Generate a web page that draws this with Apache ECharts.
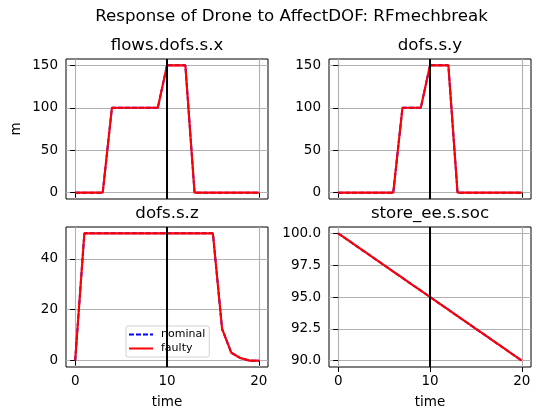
<!DOCTYPE html>
<html>
<head>
<meta charset="utf-8">
<style>html,body{margin:0;padding:0;background:#fff}#c{width:540px;height:419px}</style>
<script src="https://cdn.jsdelivr.net/npm/echarts@6/dist/echarts.min.js"></script>
</head>
<body>
<div id="c"></div>
<script>
const time = [0,1,2,3,4,5,6,7,8,9,10,11,12,13,14,15,16,17,18,19,20];
const dofsX = [0,0,0,0,100,100,100,100,100,100,150,150,150,0,0,0,0,0,0,0,0];
const dofsY = [0,0,0,0,0,0,0,100,100,100,150,150,150,0,0,0,0,0,0,0,0];
const dofsZ = [0,50,50,50,50,50,50,50,50,50,50,50,50,50,50,50,12.5,3.1,1,0,0];
const soc = [100,99.5,99,98.5,98,97.5,97,96.5,96,95.5,95,94.5,94,93.5,93,92.5,92,91.5,91,90.5,90];
const xTicks = [0,10,20];
const faultTime = 10;
const panelTitles = ['flows.dofs.s.x','dofs.s.y','dofs.s.z','store_ee.s.soc'];
const panelValues = [dofsX,dofsY,dofsZ,soc];
const yTicks = [[0,50,100,150],[0,50,100,150],[0,20,40],[90,92.5,95,97.5,100]];
const yRanges = [[-7.5,157.5],[-7.5,157.5],[-2.5,52.5],[89.5,100.5]];
const suptitle = 'Response of Drone to AffectDOF: RFmechbreak';

const FONT = '"DejaVu Sans"';
const boxes = [
  {left:66,top:59},{left:329,top:59},
  {left:66,top:227},{left:329,top:227}
];
const W = 202, H = 140;

const grid = boxes.map(b => ({left:b.left,top:b.top,width:W,height:H,show:true,
  borderColor:'#000',borderWidth:1,backgroundColor:'transparent',containLabel:false}));

const xAxis = boxes.map((b,i) => ({
  gridIndex:i,type:'value',min:-1,max:21,
  name:i>=2?'time':'',nameLocation:'middle',nameGap:28.5,
  nameTextStyle:{fontFamily:FONT,fontSize:13.5,color:'#000'},
  axisLine:{show:false},
  axisTick:{show:true,length:5,customValues:xTicks,lineStyle:{color:'#000',width:1}},
  axisLabel:{show:i>=2,customValues:xTicks,margin:7.5,fontFamily:FONT,fontSize:13.5,color:'#000',
    showMinLabel:true,showMaxLabel:true},
  splitLine:{show:true,customValues:xTicks,lineStyle:{color:'#b0b0b0',width:1.1}}
}));

const yAxis = boxes.map((b,i) => ({
  gridIndex:i,type:'value',min:yRanges[i][0],max:yRanges[i][1],
  name:i===0?'m':'',nameLocation:'middle',nameGap:43,nameRotate:90,
  nameTextStyle:{fontFamily:FONT,fontSize:13.5,color:'#000'},
  axisLine:{show:false},
  axisTick:{show:true,length:5,customValues:yTicks[i],lineStyle:{color:'#000',width:1}},
  axisLabel:{customValues:yTicks[i],margin:8,fontFamily:FONT,fontSize:13.5,color:'#000',
    formatter:v => i===3 ? Number(v).toFixed(1) : String(v)},
  splitLine:{show:true,customValues:yTicks[i],lineStyle:{color:'#b0b0b0',width:1.1}}
}));

const series = [];
panelValues.forEach((vals,i) => {
  const pts = time.map((t,k) => [t,vals[k]]);
  series.push({name:'nominal',type:'line',xAxisIndex:i,yAxisIndex:i,data:pts,symbol:'none',
    lineStyle:{color:'#0000ff',width:2,type:[5,2]},itemStyle:{color:'#0000ff'},z:3});
  series.push({name:'faulty',type:'line',xAxisIndex:i,yAxisIndex:i,data:pts,symbol:'none',
    lineStyle:{color:'#ff0000',width:2.1},itemStyle:{color:'#ff0000'},z:4,
    markLine:{silent:true,symbol:'none',label:{show:false},animation:false,
      lineStyle:{color:'#000',width:2,type:'solid'},data:[{xAxis:faultTime}]}});
});

const title = [{text:suptitle,left:291.5,top:8,textAlign:'center',padding:0,
  textStyle:{fontFamily:FONT,fontSize:16.67,fontWeight:'normal',color:'#000'}}]
  .concat(boxes.map((b,i) => ({text:panelTitles[i],left:b.left+W/2,top:b.top-21.5,textAlign:'center',padding:0,
    textStyle:{fontFamily:FONT,fontSize:16.67,fontWeight:'normal',color:'#000'}})));

const chart = echarts.init(document.getElementById('c'));
chart.setOption({
  animation:false,backgroundColor:'#fff',title,grid,xAxis,yAxis,series,
  legend:{data:['nominal','faulty'],orient:'vertical',left:126,top:326,
    padding:[3,4,3,2],itemGap:3,itemWidth:24,itemHeight:13,
    itemStyle:{opacity:0},
    backgroundColor:'rgba(255,255,255,0.85)',borderColor:'#d0d0d0',borderWidth:1,borderRadius:2,
    textStyle:{fontFamily:FONT,fontSize:11,color:'#000',padding:[0,0,0,3]},selectedMode:false}
});
</script>
</body>
</html>
